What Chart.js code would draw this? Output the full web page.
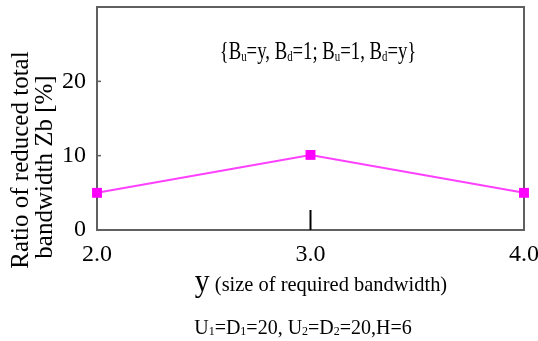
<!DOCTYPE html>
<html>
<head>
<meta charset="utf-8">
<script src="https://cdn.jsdelivr.net/npm/chart.js@4"></script>
<style>
html, body { margin: 0; padding: 0; background: #fff; }
#wrap { width: 538px; height: 341px; }
</style>
</head>
<body>
<div id="wrap"><canvas id="chart"></canvas></div>
<script>
// values
const sizes = [2.0, 3.0, 4.0];      // y (size of required bandwidth)
const ratios = [5.0, 10.1, 5.0];    // ratio of reduced total bandwidth Zb [%]
const xTicks = [2.0, 3.0, 4.0];
const yTicks = [0, 10, 20];
const yMax = 30;

const serif = "'Liberation Serif', 'DejaVu Serif', serif";

// draw a row of text pieces (with sub-scripts) centred on cx
const drawRuns = (ctx, runs, cx, baseline, squeeze = 1) => {
	let w = 0;
	runs.forEach(r => {
		ctx.font = r.size + "px " + serif;
		r.w = ctx.measureText(r.t).width;
		w += r.w;
	});
	ctx.save();
	ctx.translate(cx, baseline);
	ctx.scale(squeeze, 1);
	ctx.textAlign = "left";
	ctx.textBaseline = "alphabetic";
	ctx.fillStyle = "#000";
	let x = -w / 2;
	runs.forEach(r => {
		ctx.font = r.size + "px " + serif;
		ctx.fillText(r.t, x, r.dy || 0);
		x += r.w;
	});
	ctx.restore();
};

const M = 26, S = 15;
const noteRuns = [
	{ t: "{B", size: M }, { t: "u", size: S, dy: 2 },
	{ t: "=y, B", size: M }, { t: "d", size: S, dy: 2 },
	{ t: "=1; B", size: M }, { t: "u", size: S, dy: 2 },
	{ t: "=1, B", size: M }, { t: "d", size: S, dy: 2 },
	{ t: "=y}", size: M }
];
const footRuns = [
	{ t: "U", size: 20 }, { t: "1", size: 12, dy: 1 },
	{ t: "=D", size: 20 }, { t: "1", size: 12, dy: 1 },
	{ t: "=20, U", size: 20 }, { t: "2", size: 12, dy: 1 },
	{ t: "=D", size: 20 }, { t: "2", size: 12, dy: 1 },
	{ t: "=20,H=6", size: 20 }
];
const xTitleRuns = [
	{ t: "y", size: 32 },
	{ t: " (size of required bandwidth)", size: 22 }
];

const decor = {
	id: "decor",
	beforeDatasetsDraw(chart) {
		const { ctx, chartArea: a, scales } = chart;
		ctx.save();
		// plot frame
		ctx.strokeStyle = "#606060";
		ctx.lineWidth = 2;
		ctx.strokeRect(a.left, a.top, a.right - a.left, a.bottom - a.top);
		// small inner ticks on the y axis
		ctx.lineWidth = 1.5;
		yTicks.forEach(v => {
			const py = scales.y.getPixelForValue(v);
			ctx.beginPath();
			ctx.moveTo(a.left, py);
			ctx.lineTo(a.left + 4, py);
			ctx.stroke();
		});
		// inner tick at the middle category
		const mx = scales.x.getPixelForValue(xTicks[1]);
		ctx.strokeStyle = "#000";
		ctx.lineWidth = 2;
		ctx.beginPath();
		ctx.moveTo(mx, a.bottom - 20);
		ctx.lineTo(mx, a.bottom);
		ctx.stroke();
		ctx.restore();
	},
	afterDraw(chart) {
		const { ctx } = chart;
		drawRuns(ctx, noteRuns, 318, 59, 0.72);
		drawRuns(ctx, xTitleRuns, 321, 291, 0.93);
		drawRuns(ctx, footRuns, 303, 334);
		// y axis title, two lines
		const lines = [["Ratio of reduced total", 21, 160], ["bandwidth Zb [%]", 45, 167]];
		lines.forEach(([t, x, y]) => {
			ctx.save();
			ctx.fillStyle = "#000";
			ctx.font = "25px " + serif;
			ctx.textAlign = "center";
			ctx.textBaseline = "middle";
			ctx.translate(x, y);
			ctx.rotate(-Math.PI / 2);
			ctx.fillText(t, 0, 0);
			ctx.restore();
		});
	}
};

new Chart(document.getElementById("chart"), {
	type: "line",
	data: {
		datasets: [{
			data: sizes.map((x, i) => ({ x: x, y: ratios[i] })),
			borderColor: "#ff40ff",
			borderWidth: 2,
			pointStyle: "rect",
			pointRadius: 7,
			pointBackgroundColor: "#ff00ff",
			pointBorderColor: "#ff00ff",
			pointBorderWidth: 0,
			tension: 0,
			clip: false
		}]
	},
	options: {
		responsive: true,
		maintainAspectRatio: false,
		animation: false,
		layout: { padding: { top: 7, right: 14, bottom: 0, left: 0 } },
		plugins: {
			legend: { display: false },
			tooltip: { enabled: false }
		},
		scales: {
			x: {
				type: "linear",
				min: xTicks[0],
				max: xTicks[xTicks.length - 1],
				afterBuildTicks: s => { s.ticks = xTicks.map(v => ({ value: v })); },
				afterFit: s => { s.height = 111; s.paddingLeft = 0; s.paddingRight = 0; },
				grid: { display: false, drawTicks: false },
				border: { display: false },
				ticks: {
					color: "#000",
					font: { family: serif, size: 24, lineHeight: 1 },
					padding: 13,
					maxRotation: 0,
					autoSkip: false,
					callback: v => v.toFixed(1)
				}
			},
			y: {
				min: 0,
				max: yMax,
				afterBuildTicks: s => { s.ticks = yTicks.map(v => ({ value: v })); },
				afterFit: s => { s.width = 97; s.paddingTop = 0; s.paddingBottom = 0; },
				grid: { display: false, drawTicks: false },
				border: { display: false },
				ticks: {
					color: "#000",
					font: { family: serif, size: 24 },
					padding: 11
				}
			}
		}
	},
	plugins: [decor]
});
</script>
</body>
</html>
